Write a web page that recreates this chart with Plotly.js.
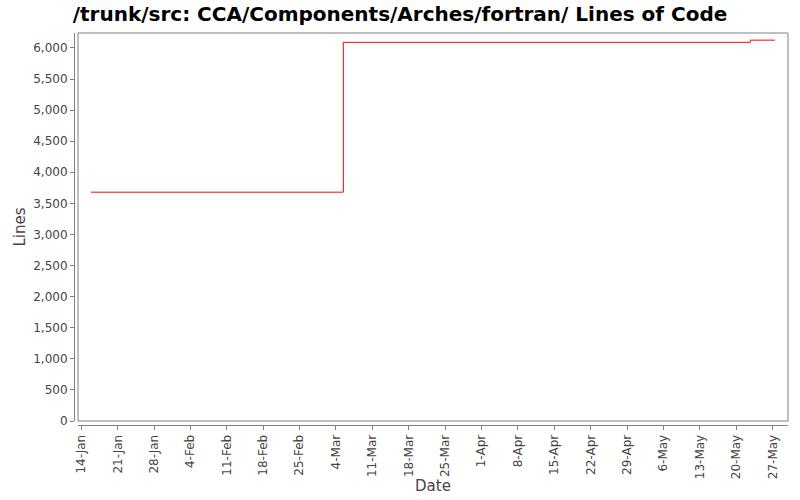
<!DOCTYPE html>
<html>
<head>
<meta charset="utf-8">
<script src="https://cdn.plot.ly/plotly-3.0.1.min.js"></script>
<style>
  body { margin: 0; background: #fff; }
  #chart { width: 800px; height: 500px; }
</style>
</head>
<body>
<div id="chart"></div>
<script>
// commit dates and line counts
var dates = ["2007-01-15 21:00", "2007-03-05 10:00", "2007-05-22 17:00", "2007-05-27 10:00"];
var lines = [3680, 6090, 6125, 6125];

var FONT = "DejaVu Sans, Verdana, sans-serif";

var trace = {
    x: dates,
    y: lines,
    type: "scatter",
    mode: "lines",
    line: { shape: "hv", color: "rgb(255, 0, 0)", width: 1 },
    hoverinfo: "none"
};

Plotly.newPlot("chart", [trace], {
    width: 800,
    height: 500,
    paper_bgcolor: "#fff",
    plot_bgcolor: "#fff",
    showlegend: false,
    font: { family: FONT, size: 12, color: "#444" },
    margin: { l: 74, r: 12, t: 33, b: 75, pad: 0 },
    title: {
        text: "/trunk/src: CCA/Components/Arches/fortran/ Lines of Code",
        font: { family: FONT, size: 20, color: "#000", weight: "bold" },
        x: 0.5,
        xanchor: "center",
        y: 0.972,
        yanchor: "middle"
    },
    xaxis: {
        type: "date",
        domain: [4 / 714, 1],
        anchor: "free",
        position: 0,
        range: ["2007-01-13 09:00", "2007-05-29 23:00"],
        tick0: "2007-01-14",
        dtick: 7 * 86400000,
        tickformat: "%-d-%b",
        tickangle: -90,
        ticks: "outside",
        ticklen: 4,
        tickcolor: "#808080",
        showline: true,
        linecolor: "#808080",
        linewidth: 1,
        showgrid: false,
        zeroline: false,
        tickfont: { family: FONT, size: 12, color: "#444" },
        title: { text: "Date", font: { family: FONT, size: 15, color: "#444" }, standoff: 2 }
    },
    yaxis: {
        domain: [4 / 392, 1],
        anchor: "free",
        position: 0,
        range: [0, 6240],
        dtick: 500,
        tickformat: ",d",
        ticks: "outside",
        ticklen: 4,
        tickcolor: "#808080",
        showline: true,
        linecolor: "#808080",
        linewidth: 1,
        showgrid: false,
        zeroline: false,
        tickfont: { family: FONT, size: 12, color: "#444" },
        title: { text: "Lines", font: { family: FONT, size: 15, color: "#444" }, standoff: 2 }
    },
    shapes: [{
        type: "rect",
        xref: "x domain", yref: "y domain",
        x0: 0, x1: 1, y0: 0, y1: 1,
        line: { color: "#808080", width: 1 },
        layer: "above"
    }]
}, {
    displayModeBar: false,
    staticPlot: true
});
</script>
</body>
</html>
